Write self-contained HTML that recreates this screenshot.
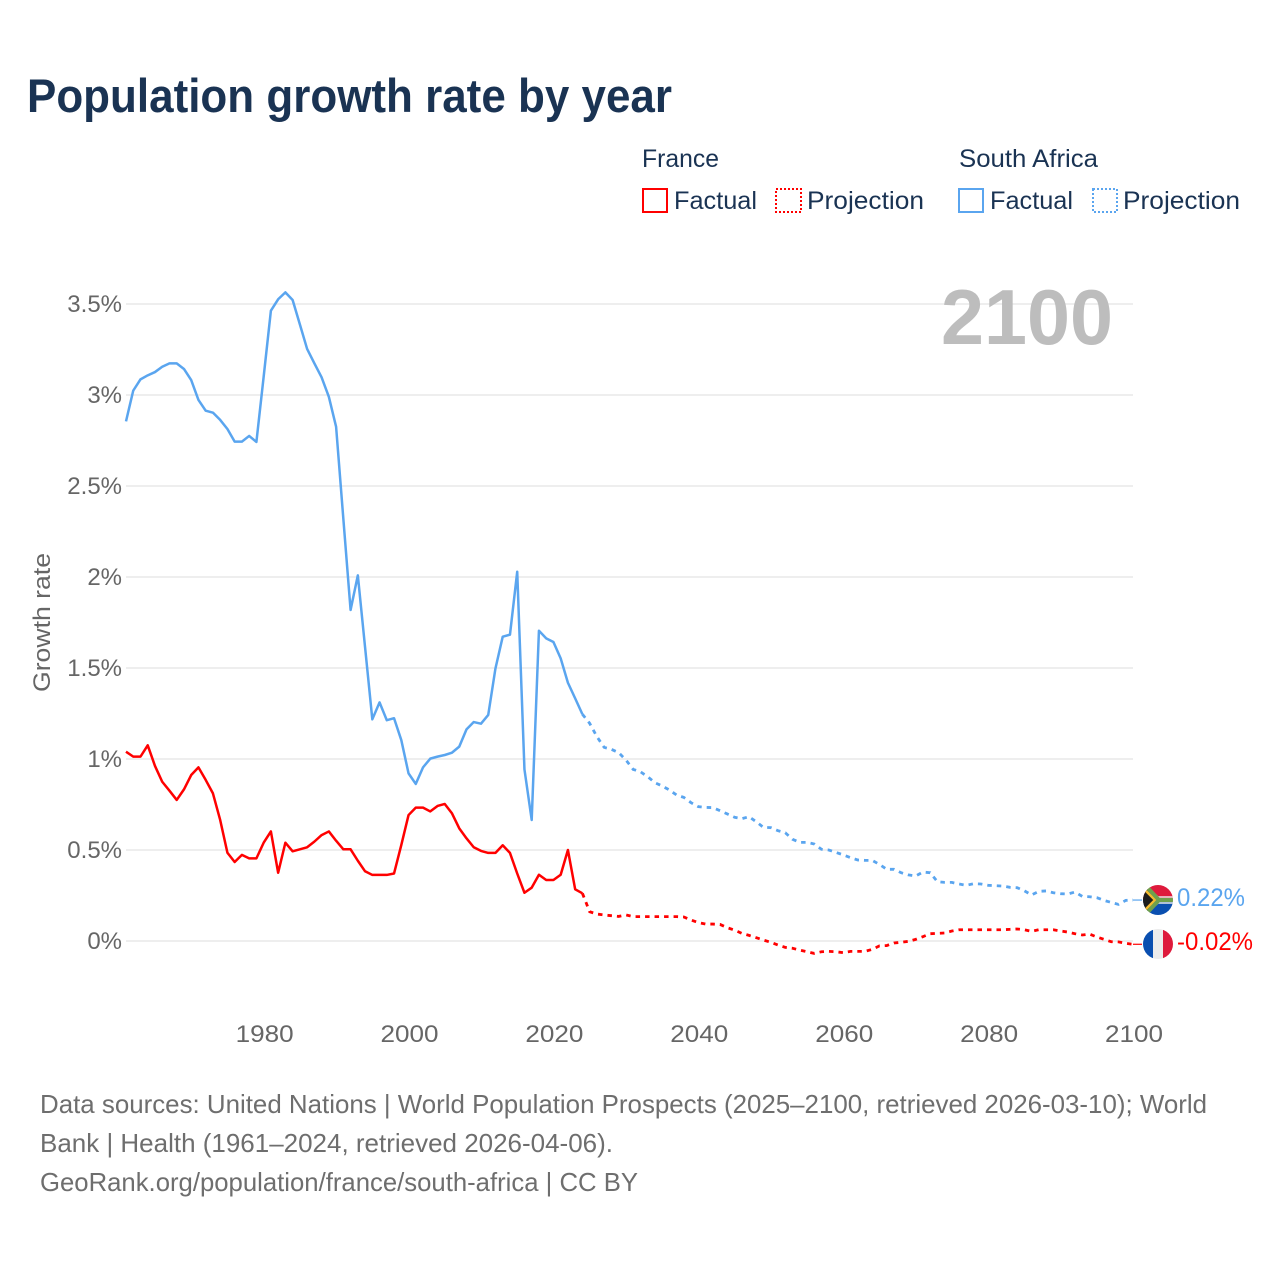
<!DOCTYPE html>
<html lang="en">
<head>
<meta charset="utf-8">
<title>Population growth rate by year</title>
<style>
  html, body { margin: 0; padding: 0; background: #fff; }
  svg { display: block; font-family: "Liberation Sans", sans-serif; }
</style>
</head>
<body>
<svg id="chart" xmlns="http://www.w3.org/2000/svg" width="1280" height="1280" viewBox="0 0 1280 1280">
  <rect width="1280" height="1280" fill="#fff"/>
  <defs>
    <clipPath id="clip-za"><circle cx="1158" cy="900" r="15"/></clipPath>
    <clipPath id="clip-fr"><circle cx="1158" cy="944" r="15"/></clipPath>
  </defs>

  <text x="27" y="112" font-size="47" font-weight="700" fill="#1a3353" textLength="645" lengthAdjust="spacingAndGlyphs">Population growth rate by year</text>

  <g font-size="25" fill="#1a3353">
    <text x="642" y="167" textLength="77" lengthAdjust="spacingAndGlyphs">France</text>
    <text x="959" y="167" textLength="139" lengthAdjust="spacingAndGlyphs">South Africa</text>
    <rect x="643" y="189" width="24" height="23" fill="none" stroke="#ff0000" stroke-width="2"/>
    <text x="674" y="209" textLength="83" lengthAdjust="spacingAndGlyphs">Factual</text>
    <rect x="776" y="189" width="25" height="23" fill="none" stroke="#ff0000" stroke-width="2" stroke-dasharray="2 2"/>
    <text x="807" y="209" textLength="117" lengthAdjust="spacingAndGlyphs">Projection</text>
    <rect x="959" y="189" width="24" height="23" fill="none" stroke="#5aa5ef" stroke-width="2"/>
    <text x="990" y="209" textLength="83" lengthAdjust="spacingAndGlyphs">Factual</text>
    <rect x="1093" y="189" width="24" height="23" fill="none" stroke="#5aa5ef" stroke-width="2" stroke-dasharray="2 2"/>
    <text x="1123" y="209" textLength="117" lengthAdjust="spacingAndGlyphs">Projection</text>
  </g>

  <g id="grid"></g>
  <g id="yticks"></g>
  <g id="xticks"></g>

  <text x="941" y="344" font-size="78" font-weight="700" fill="#bdbdbd" textLength="172" lengthAdjust="spacingAndGlyphs">2100</text>

  <text transform="translate(50,692) rotate(-90)" font-size="24" fill="#666" textLength="139" lengthAdjust="spacingAndGlyphs">Growth rate</text>

  <g id="series"></g>

  <g clip-path="url(#clip-za)">
    <rect x="1143" y="885" width="30" height="15" fill="#de1a3c"/>
    <rect x="1143" y="900" width="30" height="15" fill="#0a4fb0"/>
    <path d="M1143 885 L1159 900 L1143 915 Z" fill="#1c1c1c"/>
    <path d="M1143 888 L1155 900 L1143 912" fill="none" stroke="#f5bb2e" stroke-width="2.5"/>
    <path d="M1143 884 L1158 897 L1173 897 L1173 903 L1158 903 L1143 916" fill="none" stroke="#e6e6e6" stroke-width="1.5"/>
    <path d="M1145 885 L1159 900 L1145 915 M1159 900 L1173 900" fill="none" stroke="#6fa04c" stroke-width="4"/>
  </g>
  <text x="1177" y="906" font-size="25" fill="#5aa5ef" textLength="68" lengthAdjust="spacingAndGlyphs">0.22%</text>

  <g clip-path="url(#clip-fr)">
    <rect x="1143" y="929" width="10" height="30" fill="#0a4fb0"/>
    <rect x="1153" y="929" width="10" height="30" fill="#ececec"/>
    <rect x="1163" y="929" width="10" height="30" fill="#de1a3c"/>
  </g>
  <text x="1177" y="950" font-size="25" fill="#ff0000" textLength="76" lengthAdjust="spacingAndGlyphs">-0.02%</text>

  <g font-size="26" fill="#6e6e6e">
    <text x="40" y="1113" textLength="1167" lengthAdjust="spacingAndGlyphs">Data sources: United Nations | World Population Prospects (2025–2100, retrieved 2026-03-10); World</text>
    <text x="40" y="1152" textLength="573" lengthAdjust="spacingAndGlyphs">Bank | Health (1961–2024, retrieved 2026-04-06).</text>
    <text x="40" y="1191" textLength="598" lengthAdjust="spacingAndGlyphs">GeoRank.org/population/france/south-africa | CC BY</text>
  </g>
</svg>

<script>
const firstYear = 1961;
const lastFactualYear = 2024;
const yTickValues = [0, 0.5, 1, 1.5, 2, 2.5, 3, 3.5];
const yTickLabels = ["0%", "0.5%", "1%", "1.5%", "2%", "2.5%", "3%", "3.5%"];
const xTickYears = [1980, 2000, 2020, 2040, 2060, 2080, 2100];

const southAfricaFactual = [
  2.855, 3.024, 3.086, 3.108, 3.126, 3.155, 3.174, 3.174, 3.143, 3.082,
  2.973, 2.914, 2.903, 2.863, 2.813, 2.744, 2.744, 2.775, 2.742, 3.10,
  3.463, 3.526, 3.564, 3.522, 3.388, 3.253, 3.174, 3.097, 2.99, 2.826,
  2.32, 1.819, 2.009, 1.614, 1.218, 1.311, 1.213, 1.224, 1.104, 0.921,
  0.863, 0.954, 1.002, 1.013, 1.022, 1.035, 1.068, 1.163, 1.203, 1.194,
  1.242, 1.498, 1.672, 1.683, 2.029, 0.943, 0.665, 1.705, 1.663, 1.643,
  1.553, 1.419, 1.333, 1.246
];
const southAfricaProjection = [
  1.196, 1.123, 1.064, 1.053, 1.035, 0.995, 0.943, 0.93, 0.903, 0.87,
  0.852, 0.83, 0.802, 0.789, 0.76, 0.738, 0.734, 0.733, 0.716, 0.698,
  0.68, 0.672, 0.683, 0.655, 0.624, 0.623, 0.606, 0.595, 0.559, 0.542,
  0.542, 0.533, 0.504, 0.5, 0.487, 0.473, 0.458, 0.445, 0.443, 0.443,
  0.421, 0.394, 0.394, 0.375, 0.363, 0.357, 0.379, 0.375, 0.326, 0.322,
  0.322, 0.313, 0.306, 0.315, 0.313, 0.306, 0.304, 0.302, 0.295, 0.293,
  0.276, 0.253, 0.273, 0.275, 0.265, 0.26, 0.258, 0.269, 0.245, 0.243,
  0.238, 0.223, 0.212, 0.201, 0.223, 0.225
];
const franceFactual = [
  1.04, 1.013, 1.013, 1.075, 0.962, 0.875, 0.826, 0.775, 0.833, 0.912,
  0.954, 0.885, 0.811, 0.665, 0.485, 0.434, 0.473, 0.454, 0.454, 0.54,
  0.602, 0.375, 0.54, 0.493, 0.504, 0.515, 0.546, 0.582, 0.602, 0.551,
  0.504, 0.504, 0.441, 0.383, 0.363, 0.363, 0.363, 0.371, 0.527, 0.692,
  0.733, 0.733, 0.712, 0.742, 0.753, 0.701, 0.619, 0.564, 0.515, 0.495,
  0.484, 0.484, 0.526, 0.484, 0.371, 0.265, 0.293, 0.364, 0.335, 0.335,
  0.364, 0.5, 0.284, 0.262
];
const franceProjection = [
  0.161, 0.148, 0.143, 0.139, 0.135, 0.143, 0.134, 0.134, 0.134, 0.134,
  0.134, 0.134, 0.134, 0.132, 0.115, 0.101, 0.093, 0.093, 0.091, 0.073,
  0.06, 0.042, 0.031, 0.018, 0.005, -0.007, -0.022, -0.035, -0.04, -0.05,
  -0.059, -0.068, -0.059, -0.057, -0.059, -0.064, -0.057, -0.057, -0.057, -0.046,
  -0.027, -0.025, -0.011, -0.007, -0.002, 0.009, 0.024, 0.04, 0.042, 0.044,
  0.055, 0.062, 0.062, 0.062, 0.062, 0.062, 0.062, 0.062, 0.064, 0.066,
  0.062, 0.053, 0.062, 0.062, 0.062, 0.055, 0.049, 0.04, 0.033, 0.038,
  0.022, 0.009, -0.004, -0.005, -0.013, -0.018
];

const NS = "http://www.w3.org/2000/svg";
const plotLeft = 126, plotRight = 1133;
const plotYearEnd = 2100;
const zeroY = 941, pxPerUnit = 182;

function xScale(year) {
  return plotLeft + (year - firstYear) * (plotRight - plotLeft) / (plotYearEnd - firstYear);
}
function yScale(value) {
  return zeroY - value * pxPerUnit;
}
function make(tag, attrs) {
  const el = document.createElementNS(NS, tag);
  for (const key in attrs) el.setAttribute(key, attrs[key]);
  return el;
}

const grid = document.getElementById("grid");
const yticks = document.getElementById("yticks");
yTickValues.forEach(function (value, i) {
  const line = make("line", { x1: plotLeft, x2: plotRight, y1: yScale(value), y2: yScale(value), stroke: "#e8e8e8", "stroke-width": 1.6 });
  
  
  grid.appendChild(line);

  const label = make("text", { x: 122, y: yScale(value) + 8, "text-anchor": "end", "font-size": 24, fill: "#666" });
  
  
  label.textContent = yTickLabels[i];
  yticks.appendChild(label);
});

const xticks = document.getElementById("xticks");
xTickYears.forEach(function (year) {
  const label = make("text", { x: xScale(year) + 1, y: 1042, "text-anchor": "middle", "font-size": 24, fill: "#666", textLength: 58, lengthAdjust: "spacingAndGlyphs" });
  
  
  label.textContent = String(year);
  xticks.appendChild(label);
});

function pathFrom(values, startYear) {
  return values.map(function (value, i) {
    return (i ? "L" : "M") + xScale(startYear + i).toFixed(2) + " " + yScale(value).toFixed(2);
  }).join(" ");
}

const series = document.getElementById("series");
function drawSeries(factual, projection, color, key) {
  const solid = make("path", { d: pathFrom(factual, firstYear), fill: "none", stroke: color, "stroke-width": 2.5, "stroke-linejoin": "round" });
  
  
  series.appendChild(solid);

  const joined = [factual[factual.length - 1]].concat(projection);
  const dashed = make("path", { d: pathFrom(joined, lastFactualYear), fill: "none", stroke: color, "stroke-width": 2.8, "stroke-dasharray": "4.5 5" });
  
  
  series.appendChild(dashed);

  const endY = yScale(projection[projection.length - 1]);
  const connector = make("line", { x1: plotRight, x2: plotRight + 9, y1: endY, y2: endY, stroke: color, "stroke-width": 1.2 });
  
  
  series.appendChild(connector);
}
drawSeries(southAfricaFactual, southAfricaProjection, "#5aa5ef", "south-africa");
drawSeries(franceFactual, franceProjection, "#ff0000", "france");
</script>
</body>
</html>
